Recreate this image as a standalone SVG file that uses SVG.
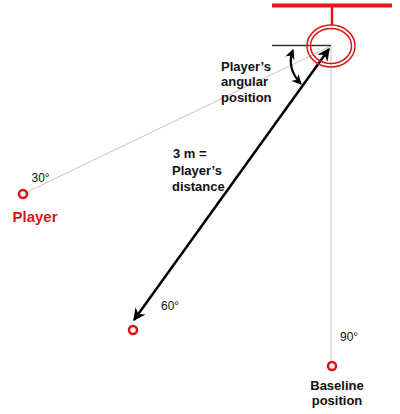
<svg xmlns="http://www.w3.org/2000/svg" width="400" height="414" viewBox="0 0 400 414">
<style>
text{font-family:"Liberation Sans",Arial,sans-serif}
.b{font-weight:bold;font-size:13px;fill:#111}
.deg{font-size:12px;fill:#111}
.pt{fill:#fff;stroke:#e01010;stroke-width:2.5}
.gray{stroke:#c4c4c4;stroke-width:1;fill:none}
</style>
<defs>
<marker id="ah" viewBox="0 0 10 10" refX="9" refY="5" markerWidth="5" markerHeight="5" orient="auto-start-reverse" markerUnits="strokeWidth">
<path d="M0,0 L10,5 L0,10 L3,5 Z" fill="#000"/>
</marker>
<marker id="ah2" viewBox="0 0 10 10" refX="9" refY="5" markerWidth="4.5" markerHeight="4.5" orient="auto-start-reverse" markerUnits="strokeWidth">
<path d="M0,0 L10,5 L0,10 L3,5 Z" fill="#000"/>
</marker>
</defs>
<rect width="400" height="414" fill="#fff"/>
<g id="connectors">
<line class="gray" x1="23" y1="194" x2="331" y2="46"/>
<line class="gray" x1="331" y1="46" x2="331" y2="362"/>
<line x1="272" y1="45.5" x2="331" y2="45.5" stroke="#333" stroke-width="1.3"/>
<line x1="329" y1="49" x2="134" y2="320" stroke="#000" stroke-width="2.5" marker-start="url(#ah)" marker-end="url(#ah)"/>
<path d="M293,50 Q286,68 301,84" fill="none" stroke="#000" stroke-width="2.2" marker-start="url(#ah2)" marker-end="url(#ah2)"/>
</g>
<g id="target">
<rect x="272" y="3.5" width="120" height="4" fill="#e01818"/>
<line x1="332" y1="7" x2="332" y2="25" stroke="#e01818" stroke-width="2.5"/>
<ellipse cx="331" cy="46" rx="24" ry="21" fill="none" stroke="#d81818" stroke-width="1.5"/>
<ellipse cx="331" cy="46" rx="20.5" ry="17.5" fill="none" stroke="#d81818" stroke-width="1.5"/>
</g>
<g id="angle-label">
<text class="b" x="221" y="71">Player’s</text>
<text class="b" x="221" y="86">angular</text>
<text class="b" x="221" y="102">position</text>
</g>
<g id="distance-label">
<text class="b" x="173" y="158">3 m =</text>
<text class="b" x="172" y="175">Player’s</text>
<text class="b" x="172" y="191">distance</text>
</g>
<g id="player">
<circle class="pt" cx="23" cy="194" r="4"/>
<text x="31.5" y="181.5" class="deg">30°</text>
<text x="12.5" y="222" font-size="15" font-weight="bold" fill="#d81818">Player</text>
</g>
<g id="p60">
<circle class="pt" cx="133" cy="330" r="4"/>
<text x="161" y="309.5" class="deg">60°</text>
</g>
<g id="baseline">
<circle class="pt" cx="332" cy="366" r="4"/>
<text x="340" y="341" class="deg">90°</text>
<text class="b" x="337" y="390" text-anchor="middle">Baseline</text>
<text class="b" x="337" y="405" text-anchor="middle">position</text>
</g>
</svg>
